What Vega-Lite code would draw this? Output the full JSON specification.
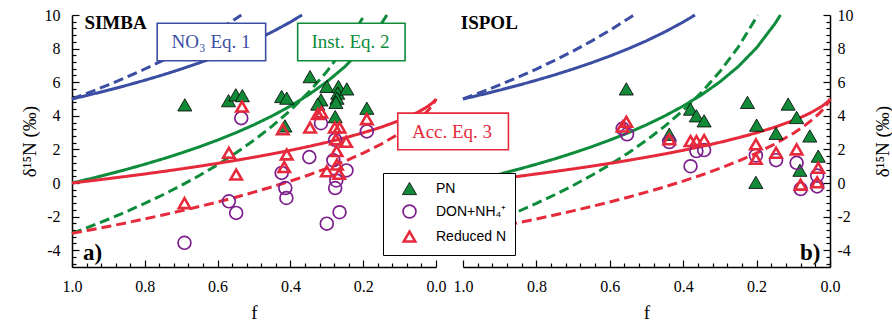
{
  "$schema": "https://vega.github.io/schema/vega-lite/v6.json",
  "background": "white",
  "padding": {"left": 20, "top": 7, "right": 0, "bottom": 0},
  "spacing": 27,
  "bounds": "flush",
  "config": {
    "view": {"stroke": null},
    "axis": {
      "grid": false, "domainColor": "black", "tickColor": "black", "labelColor": "black", "titleColor": "black",
      "labelFont": "Liberation Serif", "titleFont": "Liberation Serif", "labelFontSize": 16, "titleFontSize": 19,
      "titleFontWeight": "normal", "domainWidth": 1.5, "tickWidth": 1.2, "labelOverlap": false, "labelFlush": false, "labelBound": false
    },
    "legend": {
      "orient": "none", "legendX": 311, "legendY": 158, "strokeColor": "black", "fillColor": "white",
      "padding": 8, "rowPadding": 4, "labelFont": "Liberation Sans", "labelFontSize": 14, "labelOffset": 19, "symbolOffset": 11, "labelColor": "black"
    }
  },
  "datasets": {
    "curves": [
      {"eq":"NO3","m":"a","f":1,"d":5},{"eq":"NO3","m":"a","f":0.95,"d":5.256},{"eq":"NO3","m":"a","f":0.9,"d":5.527},{"eq":"NO3","m":"a","f":0.85,"d":5.813},{"eq":"NO3","m":"a","f":0.8,"d":6.116},{"eq":"NO3","m":"a","f":0.75,"d":6.438},{"eq":"NO3","m":"a","f":0.7,"d":6.783},{"eq":"NO3","m":"a","f":0.65,"d":7.154},{"eq":"NO3","m":"a","f":0.6,"d":7.554},{"eq":"NO3","m":"a","f":0.55,"d":7.989},{"eq":"NO3","m":"a","f":0.5,"d":8.466},{"eq":"NO3","m":"a","f":0.45,"d":8.993},{"eq":"NO3","m":"a","f":0.4,"d":9.581},{"eq":"NO3","m":"a","f":0.368,"d":10},
      {"eq":"NO3","m":"b","f":1,"d":5},{"eq":"NO3","m":"b","f":0.95,"d":5.41},{"eq":"NO3","m":"b","f":0.9,"d":5.843},{"eq":"NO3","m":"b","f":0.85,"d":6.3},{"eq":"NO3","m":"b","f":0.8,"d":6.785},{"eq":"NO3","m":"b","f":0.75,"d":7.301},{"eq":"NO3","m":"b","f":0.7,"d":7.853},{"eq":"NO3","m":"b","f":0.65,"d":8.446},{"eq":"NO3","m":"b","f":0.6,"d":9.087},{"eq":"NO3","m":"b","f":0.55,"d":9.783},{"eq":"NO3","m":"b","f":0.535,"d":10},
      {"eq":"Inst","m":"a","f":1,"d":0},{"eq":"Inst","m":"a","f":0.95,"d":0.256},{"eq":"Inst","m":"a","f":0.9,"d":0.527},{"eq":"Inst","m":"a","f":0.85,"d":0.813},{"eq":"Inst","m":"a","f":0.8,"d":1.116},{"eq":"Inst","m":"a","f":0.75,"d":1.438},{"eq":"Inst","m":"a","f":0.7,"d":1.783},{"eq":"Inst","m":"a","f":0.65,"d":2.154},{"eq":"Inst","m":"a","f":0.6,"d":2.554},{"eq":"Inst","m":"a","f":0.55,"d":2.989},{"eq":"Inst","m":"a","f":0.5,"d":3.466},{"eq":"Inst","m":"a","f":0.45,"d":3.993},{"eq":"Inst","m":"a","f":0.4,"d":4.581},{"eq":"Inst","m":"a","f":0.35,"d":5.249},{"eq":"Inst","m":"a","f":0.3,"d":6.02},{"eq":"Inst","m":"a","f":0.25,"d":6.931},{"eq":"Inst","m":"a","f":0.2,"d":8.047},{"eq":"Inst","m":"a","f":0.15,"d":9.486},{"eq":"Inst","m":"a","f":0.135,"d":10},
      {"eq":"Inst","m":"b","f":1,"d":-3},{"eq":"Inst","m":"b","f":0.95,"d":-2.59},{"eq":"Inst","m":"b","f":0.9,"d":-2.157},{"eq":"Inst","m":"b","f":0.85,"d":-1.7},{"eq":"Inst","m":"b","f":0.8,"d":-1.215},{"eq":"Inst","m":"b","f":0.75,"d":-0.699},{"eq":"Inst","m":"b","f":0.7,"d":-0.147},{"eq":"Inst","m":"b","f":0.65,"d":0.446},{"eq":"Inst","m":"b","f":0.6,"d":1.087},{"eq":"Inst","m":"b","f":0.55,"d":1.783},{"eq":"Inst","m":"b","f":0.5,"d":2.545},{"eq":"Inst","m":"b","f":0.45,"d":3.388},{"eq":"Inst","m":"b","f":0.4,"d":4.33},{"eq":"Inst","m":"b","f":0.35,"d":5.399},{"eq":"Inst","m":"b","f":0.3,"d":6.632},{"eq":"Inst","m":"b","f":0.25,"d":8.09},{"eq":"Inst","m":"b","f":0.2,"d":9.876},{"eq":"Inst","m":"b","f":0.197,"d":10},
      {"eq":"Acc","m":"a","f":1,"d":0},{"eq":"Acc","m":"a","f":0.95,"d":0.127},{"eq":"Acc","m":"a","f":0.9,"d":0.259},{"eq":"Acc","m":"a","f":0.85,"d":0.395},{"eq":"Acc","m":"a","f":0.8,"d":0.537},{"eq":"Acc","m":"a","f":0.75,"d":0.685},{"eq":"Acc","m":"a","f":0.7,"d":0.839},{"eq":"Acc","m":"a","f":0.65,"d":1.0},{"eq":"Acc","m":"a","f":0.6,"d":1.169},{"eq":"Acc","m":"a","f":0.55,"d":1.347},{"eq":"Acc","m":"a","f":0.5,"d":1.534},{"eq":"Acc","m":"a","f":0.45,"d":1.733},{"eq":"Acc","m":"a","f":0.4,"d":1.946},{"eq":"Acc","m":"a","f":0.35,"d":2.174},{"eq":"Acc","m":"a","f":0.3,"d":2.42},{"eq":"Acc","m":"a","f":0.25,"d":2.69},{"eq":"Acc","m":"a","f":0.2,"d":2.988},{"eq":"Acc","m":"a","f":0.15,"d":3.326},{"eq":"Acc","m":"a","f":0.1,"d":3.721},{"eq":"Acc","m":"a","f":0.07,"d":3.999},{"eq":"Acc","m":"a","f":0.05,"d":4.212},{"eq":"Acc","m":"a","f":0.03,"d":4.458},{"eq":"Acc","m":"a","f":0.02,"d":4.601},{"eq":"Acc","m":"a","f":0.01,"d":4.767},{"eq":"Acc","m":"a","f":0.005,"d":4.867},{"eq":"Acc","m":"a","f":0.001,"d":4.965},{"eq":"Acc","m":"a","f":0,"d":5},
      {"eq":"Acc","m":"b","f":1,"d":-3},{"eq":"Acc","m":"b","f":0.95,"d":-2.796},{"eq":"Acc","m":"b","f":0.9,"d":-2.586},{"eq":"Acc","m":"b","f":0.85,"d":-2.368},{"eq":"Acc","m":"b","f":0.8,"d":-2.14},{"eq":"Acc","m":"b","f":0.75,"d":-1.904},{"eq":"Acc","m":"b","f":0.7,"d":-1.658},{"eq":"Acc","m":"b","f":0.65,"d":-1.4},{"eq":"Acc","m":"b","f":0.6,"d":-1.13},{"eq":"Acc","m":"b","f":0.55,"d":-0.846},{"eq":"Acc","m":"b","f":0.5,"d":-0.545},{"eq":"Acc","m":"b","f":0.45,"d":-0.227},{"eq":"Acc","m":"b","f":0.4,"d":0.113},{"eq":"Acc","m":"b","f":0.35,"d":0.478},{"eq":"Acc","m":"b","f":0.3,"d":0.872},{"eq":"Acc","m":"b","f":0.25,"d":1.303},{"eq":"Acc","m":"b","f":0.2,"d":1.781},{"eq":"Acc","m":"b","f":0.15,"d":2.322},{"eq":"Acc","m":"b","f":0.1,"d":2.953},{"eq":"Acc","m":"b","f":0.07,"d":3.399},{"eq":"Acc","m":"b","f":0.05,"d":3.739},{"eq":"Acc","m":"b","f":0.03,"d":4.132},{"eq":"Acc","m":"b","f":0.02,"d":4.361},{"eq":"Acc","m":"b","f":0.01,"d":4.628},{"eq":"Acc","m":"b","f":0.005,"d":4.787},{"eq":"Acc","m":"b","f":0.001,"d":4.945},{"eq":"Acc","m":"b","f":0,"d":5}
    ],
    "pts": [
      {"p":"SIMBA","t":"PN","f":0.69,"d":4.65},{"p":"SIMBA","t":"PN","f":0.57,"d":4.9},{"p":"SIMBA","t":"PN","f":0.55,"d":5.25},{"p":"SIMBA","t":"PN","f":0.532,"d":5.2},{"p":"SIMBA","t":"PN","f":0.424,"d":5.15},{"p":"SIMBA","t":"PN","f":0.41,"d":5.05},{"p":"SIMBA","t":"PN","f":0.415,"d":3.4},{"p":"SIMBA","t":"PN","f":0.346,"d":6.33},{"p":"SIMBA","t":"PN","f":0.3,"d":5.75},{"p":"SIMBA","t":"PN","f":0.316,"d":4.95},{"p":"SIMBA","t":"PN","f":0.325,"d":4.7},{"p":"SIMBA","t":"PN","f":0.268,"d":5.75},{"p":"SIMBA","t":"PN","f":0.27,"d":5.35},{"p":"SIMBA","t":"PN","f":0.272,"d":5.05},{"p":"SIMBA","t":"PN","f":0.275,"d":4.8},{"p":"SIMBA","t":"PN","f":0.245,"d":5.6},{"p":"SIMBA","t":"PN","f":0.277,"d":3.95},{"p":"SIMBA","t":"PN","f":0.19,"d":4.45},
      {"p":"SIMBA","t":"DON+NH₄⁺","f":0.691,"d":-3.56},{"p":"SIMBA","t":"DON+NH₄⁺","f":0.535,"d":3.86},{"p":"SIMBA","t":"DON+NH₄⁺","f":0.569,"d":-1.09},{"p":"SIMBA","t":"DON+NH₄⁺","f":0.549,"d":-1.78},{"p":"SIMBA","t":"DON+NH₄⁺","f":0.424,"d":0.6},{"p":"SIMBA","t":"DON+NH₄⁺","f":0.414,"d":-0.3},{"p":"SIMBA","t":"DON+NH₄⁺","f":0.411,"d":-0.89},{"p":"SIMBA","t":"DON+NH₄⁺","f":0.348,"d":1.54},{"p":"SIMBA","t":"DON+NH₄⁺","f":0.316,"d":3.56},{"p":"SIMBA","t":"DON+NH₄⁺","f":0.3,"d":-2.42},{"p":"SIMBA","t":"DON+NH₄⁺","f":0.265,"d":-1.74},{"p":"SIMBA","t":"DON+NH₄⁺","f":0.277,"d":2.57},{"p":"SIMBA","t":"DON+NH₄⁺","f":0.282,"d":1.35},{"p":"SIMBA","t":"DON+NH₄⁺","f":0.246,"d":0.75},{"p":"SIMBA","t":"DON+NH₄⁺","f":0.277,"d":-0.3},{"p":"SIMBA","t":"DON+NH₄⁺","f":0.274,"d":0.15},{"p":"SIMBA","t":"DON+NH₄⁺","f":0.19,"d":3.07},
      {"p":"SIMBA","t":"Reduced N","f":0.691,"d":-1.2},{"p":"SIMBA","t":"Reduced N","f":0.569,"d":1.8},{"p":"SIMBA","t":"Reduced N","f":0.533,"d":4.55},{"p":"SIMBA","t":"Reduced N","f":0.549,"d":0.5},{"p":"SIMBA","t":"Reduced N","f":0.421,"d":3.2},{"p":"SIMBA","t":"Reduced N","f":0.41,"d":1.7},{"p":"SIMBA","t":"Reduced N","f":0.417,"d":0.95},{"p":"SIMBA","t":"Reduced N","f":0.346,"d":3.3},{"p":"SIMBA","t":"Reduced N","f":0.325,"d":4.1},{"p":"SIMBA","t":"Reduced N","f":0.315,"d":4.2},{"p":"SIMBA","t":"Reduced N","f":0.278,"d":3.3},{"p":"SIMBA","t":"Reduced N","f":0.265,"d":3.3},{"p":"SIMBA","t":"Reduced N","f":0.275,"d":2.6},{"p":"SIMBA","t":"Reduced N","f":0.247,"d":2.45},{"p":"SIMBA","t":"Reduced N","f":0.273,"d":1.9},{"p":"SIMBA","t":"Reduced N","f":0.272,"d":1.1},{"p":"SIMBA","t":"Reduced N","f":0.3,"d":0.7},{"p":"SIMBA","t":"Reduced N","f":0.266,"d":0.55},{"p":"SIMBA","t":"Reduced N","f":0.19,"d":3.8},
      {"p":"ISPOL","t":"PN","f":0.555,"d":5.6},{"p":"ISPOL","t":"PN","f":0.438,"d":2.9},{"p":"ISPOL","t":"PN","f":0.38,"d":4.4},{"p":"ISPOL","t":"PN","f":0.364,"d":4.0},{"p":"ISPOL","t":"PN","f":0.343,"d":3.7},{"p":"ISPOL","t":"PN","f":0.225,"d":4.8},{"p":"ISPOL","t":"PN","f":0.2,"d":3.44},{"p":"ISPOL","t":"PN","f":0.202,"d":0.04},{"p":"ISPOL","t":"PN","f":0.147,"d":2.96},{"p":"ISPOL","t":"PN","f":0.114,"d":4.7},{"p":"ISPOL","t":"PN","f":0.091,"d":3.9},{"p":"ISPOL","t":"PN","f":0.082,"d":0.76},{"p":"ISPOL","t":"PN","f":0.055,"d":2.8},{"p":"ISPOL","t":"PN","f":0.032,"d":1.6},
      {"p":"ISPOL","t":"DON+NH₄⁺","f":0.565,"d":3.24},{"p":"ISPOL","t":"DON+NH₄⁺","f":0.553,"d":2.9},{"p":"ISPOL","t":"DON+NH₄⁺","f":0.438,"d":2.44},{"p":"ISPOL","t":"DON+NH₄⁺","f":0.38,"d":1.0},{"p":"ISPOL","t":"DON+NH₄⁺","f":0.364,"d":1.9},{"p":"ISPOL","t":"DON+NH₄⁺","f":0.343,"d":1.96},{"p":"ISPOL","t":"DON+NH₄⁺","f":0.202,"d":1.64},{"p":"ISPOL","t":"DON+NH₄⁺","f":0.147,"d":1.36},{"p":"ISPOL","t":"DON+NH₄⁺","f":0.091,"d":1.2},{"p":"ISPOL","t":"DON+NH₄⁺","f":0.08,"d":-0.36},{"p":"ISPOL","t":"DON+NH₄⁺","f":0.035,"d":0.44},{"p":"ISPOL","t":"DON+NH₄⁺","f":0.035,"d":-0.2},
      {"p":"ISPOL","t":"Reduced N","f":0.565,"d":3.36},{"p":"ISPOL","t":"Reduced N","f":0.555,"d":3.64},{"p":"ISPOL","t":"Reduced N","f":0.438,"d":2.6},{"p":"ISPOL","t":"Reduced N","f":0.38,"d":2.5},{"p":"ISPOL","t":"Reduced N","f":0.364,"d":2.5},{"p":"ISPOL","t":"Reduced N","f":0.343,"d":2.56},{"p":"ISPOL","t":"Reduced N","f":0.202,"d":2.3},{"p":"ISPOL","t":"Reduced N","f":0.202,"d":1.44},{"p":"ISPOL","t":"Reduced N","f":0.147,"d":1.8},{"p":"ISPOL","t":"Reduced N","f":0.091,"d":2.0},{"p":"ISPOL","t":"Reduced N","f":0.08,"d":-0.1},{"p":"ISPOL","t":"Reduced N","f":0.032,"d":0.9},{"p":"ISPOL","t":"Reduced N","f":0.035,"d":0.04}
    ]
  },
  "hconcat": [
    {
      "width": 364, "height": 252,
      "resolve": {"axis": {"x": "independent", "y": "independent"}},
      "layer": [
        {
          "data": {"name": "curves"},
          "mark": {"type": "line", "strokeWidth": 3},
          "encoding": {
            "x": {"field": "f", "type": "quantitative", "scale": {"domain": [0, 1], "reverse": true, "nice": false, "zero": false},
              "axis": {"title": "f", "orient": "bottom", "labelOverlap": false, "values": [0, 0.2, 0.4, 0.6, 0.8, 1], "format": ".1f", "tickSize": -7, "labelPadding": 18, "titlePadding": 9}},
            "y": {"field": "d", "type": "quantitative", "scale": {"domain": [-5, 10], "nice": false, "zero": false},
              "axis": {"title": "δ¹⁵N (‰)", "orient": "left", "labelOverlap": false, "values": [-4, -2, 0, 2, 4, 6, 8, 10], "labelExpr": "toString(datum.value)", "tickSize": -7, "labelPadding": 19, "titlePadding": 5}},
            "color": {"field": "eq", "type": "nominal", "scale": {"domain": ["NO3", "Inst", "Acc"], "range": ["#3b4ea3", "#0e8c3b", "#e62a3c"]}, "legend": null},
            "strokeDash": {"field": "m", "type": "nominal", "scale": {"domain": ["a", "b"], "range": [[1, 0], [10, 5]]}, "legend": null}
          }
        },
        {
          "data": {"values": [{}]},
          "mark": {"type": "rect", "fill": "white", "stroke": "#3b4ea3", "strokeWidth": 1.6},
          "encoding": {"x": {"datum": 0.766, "type": "quantitative", "axis": null}, "x2": {"datum": 0.468}, "y": {"datum": 9.51, "type": "quantitative", "axis": null}, "y2": {"datum": 7.28}}
        },
        {
          "data": {"values": [{}]},
          "mark": {"type": "rect", "fill": "white", "stroke": "#0e8c3b", "strokeWidth": 1.6},
          "encoding": {"x": {"datum": 0.38, "type": "quantitative", "axis": null}, "x2": {"datum": 0.085}, "y": {"datum": 9.51, "type": "quantitative", "axis": null}, "y2": {"datum": 7.28}}
        },
        {
          "data": {"values": [{}]},
          "mark": {"type": "rect", "fill": "white", "stroke": "#e62a3c", "strokeWidth": 1.6},
          "encoding": {"x": {"datum": 0.105, "type": "quantitative", "axis": null}, "x2": {"datum": -0.199}, "y": {"datum": 4.16, "type": "quantitative", "axis": null}, "y2": {"datum": 1.98}}
        },
        {
          "data": {"values": [{}]},
          "mark": {"type": "text", "text": "NO₃ Eq. 1", "font": "Liberation Serif", "fontSize": 19, "color": "#3b4ea3", "baseline": "middle"},
          "encoding": {"x": {"datum": 0.618, "type": "quantitative", "axis": null}, "y": {"datum": 8.4, "type": "quantitative", "axis": null}}
        },
        {
          "data": {"values": [{}]},
          "mark": {"type": "text", "text": "Inst. Eq. 2", "font": "Liberation Serif", "fontSize": 19, "color": "#0e8c3b", "baseline": "middle"},
          "encoding": {"x": {"datum": 0.235, "type": "quantitative", "axis": null}, "y": {"datum": 8.4, "type": "quantitative", "axis": null}}
        },
        {
          "data": {"values": [{}]},
          "mark": {"type": "text", "text": "Acc. Eq. 3", "font": "Liberation Serif", "fontSize": 19, "color": "#e62a3c", "baseline": "middle"},
          "encoding": {"x": {"datum": -0.044, "type": "quantitative", "axis": null}, "y": {"datum": 3.02, "type": "quantitative", "axis": null}}
        },
        {
          "data": {"values": [{}]},
          "mark": {"type": "text", "text": "SIMBA", "font": "Liberation Serif", "fontSize": 19, "fontWeight": "bold", "color": "black", "align": "left", "baseline": "alphabetic"},
          "encoding": {"x": {"datum": 0.966, "type": "quantitative", "axis": null}, "y": {"datum": 9.17, "type": "quantitative", "axis": null}}
        },
        {
          "data": {"values": [{}]},
          "mark": {"type": "text", "text": "a)", "font": "Liberation Serif", "fontSize": 23, "fontWeight": "bold", "color": "black", "align": "left", "baseline": "alphabetic"},
          "encoding": {"x": {"datum": 0.97, "type": "quantitative", "axis": null}, "y": {"datum": -4.6, "type": "quantitative", "axis": null}}
        },
        {
          "data": {"name": "pts"},
          "transform": [{"filter": "datum.p === 'SIMBA'"}],
          "mark": {"type": "point", "opacity": 1},
          "encoding": {
            "x": {"field": "f", "type": "quantitative",
              "axis": {"orient": "bottom", "title": null, "labels": false, "domain": false, "tickSize": -4, "values": [0.04,0.08,0.12,0.16,0.24,0.28,0.32,0.36,0.44,0.48,0.52,0.56,0.64,0.68,0.72,0.76,0.84,0.88,0.92,0.96]}},
            "y": {"field": "d", "type": "quantitative",
              "axis": {"orient": "left", "title": null, "labels": false, "domain": false, "tickSize": -4, "values": [-4.8,-4.4,-3.6,-3.2,-2.8,-2.4,-1.6,-1.2,-0.8,-0.4,0.4,0.8,1.2,1.6,2.4,2.8,3.2,3.6,4.4,4.8,5.2,5.6,6.4,6.8,7.2,7.6,8.4,8.8,9.2,9.6]}},
            "shape": {"field": "t", "type": "nominal", "scale": {"domain": ["PN", "DON+NH₄⁺", "Reduced N"], "range": ["triangle-up", "circle", "triangle-up"]}, "legend": {"title": null, "orient": "none", "legendX": 311, "legendY": 158, "padding": 8, "rowPadding": 4}},
            "fill": {"field": "t", "type": "nominal", "scale": {"domain": ["PN", "DON+NH₄⁺", "Reduced N"], "range": ["#138a38", "transparent", "transparent"]}, "legend": {"title": null}},
            "stroke": {"field": "t", "type": "nominal", "scale": {"domain": ["PN", "DON+NH₄⁺", "Reduced N"], "range": ["#000000", "#7d1f8c", "#e62a3c"]}, "legend": {"title": null}},
            "strokeWidth": {"field": "t", "type": "nominal", "scale": {"domain": ["PN", "DON+NH₄⁺", "Reduced N"], "range": [0.8, 2.6, 2.6]}, "legend": {"title": null}},
            "size": {"field": "t", "type": "nominal", "scale": {"domain": ["PN", "DON+NH₄⁺", "Reduced N"], "range": [200, 130, 160]}, "legend": {"title": null}}
          }
        }
      ]
    },
    {
      "width": 367, "height": 252,
      "resolve": {"axis": {"x": "independent", "y": "independent"}},
      "layer": [
        {
          "data": {"name": "curves"},
          "mark": {"type": "line", "strokeWidth": 3},
          "encoding": {
            "x": {"field": "f", "type": "quantitative", "scale": {"domain": [0, 1], "reverse": true, "nice": false, "zero": false},
              "axis": {"title": "f", "orient": "bottom", "labelOverlap": false, "values": [0, 0.2, 0.4, 0.6, 0.8, 1], "format": ".1f", "tickSize": -7, "labelPadding": 18, "titlePadding": 9}},
            "y": {"field": "d", "type": "quantitative", "scale": {"domain": [-5, 10], "nice": false, "zero": false},
              "axis": {"title": "δ¹⁵N (‰)", "orient": "right", "labelOverlap": false, "titleAngle": -90, "titleBaseline": "top", "values": [-4, -2, 0, 2, 4, 6, 8, 10], "labelExpr": "toString(datum.value)", "tickSize": -7, "labelPadding": 14, "titlePadding": 20}},
            "color": {"field": "eq", "type": "nominal", "scale": {"domain": ["NO3", "Inst", "Acc"], "range": ["#3b4ea3", "#0e8c3b", "#e62a3c"]}, "legend": null},
            "strokeDash": {"field": "m", "type": "nominal", "scale": {"domain": ["a", "b"], "range": [[1, 0], [10, 5]]}, "legend": null}
          }
        },
        {
          "data": {"values": [{}]},
          "mark": {"type": "text", "text": "ISPOL", "font": "Liberation Serif", "fontSize": 19, "fontWeight": "bold", "color": "black", "align": "left", "baseline": "alphabetic"},
          "encoding": {"x": {"datum": 1.006, "type": "quantitative", "axis": null}, "y": {"datum": 9.17, "type": "quantitative", "axis": null}}
        },
        {
          "data": {"values": [{}]},
          "mark": {"type": "text", "text": "b)", "font": "Liberation Serif", "fontSize": 23, "fontWeight": "bold", "color": "black", "align": "left", "baseline": "alphabetic"},
          "encoding": {"x": {"datum": 0.082, "type": "quantitative", "axis": null}, "y": {"datum": -4.6, "type": "quantitative", "axis": null}}
        },
        {
          "data": {"name": "pts"},
          "transform": [{"filter": "datum.p === 'ISPOL'"}],
          "mark": {"type": "point", "opacity": 1},
          "encoding": {
            "x": {"field": "f", "type": "quantitative",
              "axis": {"orient": "bottom", "title": null, "labels": false, "domain": false, "tickSize": -4, "values": [0.04,0.08,0.12,0.16,0.24,0.28,0.32,0.36,0.44,0.48,0.52,0.56,0.64,0.68,0.72,0.76,0.84,0.88,0.92,0.96]}},
            "y": {"field": "d", "type": "quantitative",
              "axis": {"orient": "right", "title": null, "labels": false, "domain": false, "tickSize": -4, "values": [-4.8,-4.4,-3.6,-3.2,-2.8,-2.4,-1.6,-1.2,-0.8,-0.4,0.4,0.8,1.2,1.6,2.4,2.8,3.2,3.6,4.4,4.8,5.2,5.6,6.4,6.8,7.2,7.6,8.4,8.8,9.2,9.6]}},
            "shape": {"field": "t", "type": "nominal", "scale": {"domain": ["PN", "DON+NH₄⁺", "Reduced N"], "range": ["triangle-up", "circle", "triangle-up"]}, "legend": {"title": null, "orient": "none", "legendX": 311, "legendY": 158, "padding": 8, "rowPadding": 4}},
            "fill": {"field": "t", "type": "nominal", "scale": {"domain": ["PN", "DON+NH₄⁺", "Reduced N"], "range": ["#138a38", "transparent", "transparent"]}, "legend": {"title": null}},
            "stroke": {"field": "t", "type": "nominal", "scale": {"domain": ["PN", "DON+NH₄⁺", "Reduced N"], "range": ["#000000", "#7d1f8c", "#e62a3c"]}, "legend": {"title": null}},
            "strokeWidth": {"field": "t", "type": "nominal", "scale": {"domain": ["PN", "DON+NH₄⁺", "Reduced N"], "range": [0.8, 2.6, 2.6]}, "legend": {"title": null}},
            "size": {"field": "t", "type": "nominal", "scale": {"domain": ["PN", "DON+NH₄⁺", "Reduced N"], "range": [200, 130, 160]}, "legend": {"title": null}}
          }
        }
      ]
    }
  ]
}
